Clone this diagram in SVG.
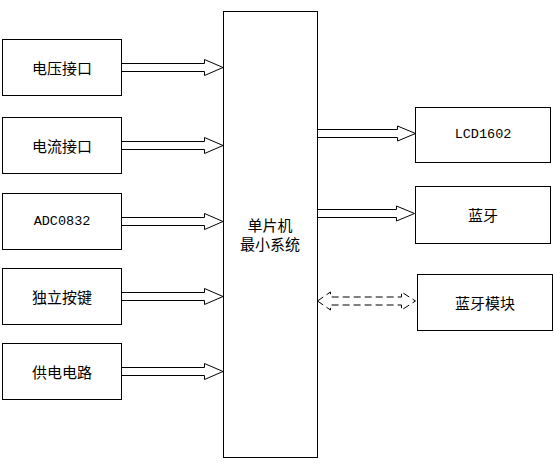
<svg xmlns="http://www.w3.org/2000/svg" width="554" height="464" viewBox="0 0 554 464">
<style>
.box{fill:#fff;stroke:#000;stroke-width:1}
.arr{fill:#fff;stroke:#000;stroke-width:1}
.dash{fill:none;stroke:#000;stroke-width:1;stroke-dasharray:7,4}
.t{font-family:"Noto Sans CJK SC","Liberation Sans",sans-serif;font-size:15px;fill:#000;text-anchor:middle;dominant-baseline:central}
.m{font-family:"Liberation Mono","Noto Sans CJK SC",monospace;font-size:13.5px;fill:#000;text-anchor:middle;dominant-baseline:central}
</style>
<rect width="554" height="464" fill="#fff"/>
<g id="connectors">
<polygon class="arr" points="121.5,63.5 204.5,63.5 204.5,59.5 223,67.5 204.5,75.5 204.5,71.5 121.5,71.5"/>
<polygon class="arr" points="121.5,141.5 204.5,141.5 204.5,137.5 223,145.5 204.5,153.5 204.5,149.5 121.5,149.5"/>
<polygon class="arr" points="121.5,217.5 204.5,217.5 204.5,213.5 223,221.5 204.5,229.5 204.5,225.5 121.5,225.5"/>
<polygon class="arr" points="121.5,292.5 204.5,292.5 204.5,288.5 223,296.5 204.5,304.5 204.5,300.5 121.5,300.5"/>
<polygon class="arr" points="121.5,367.5 204.5,367.5 204.5,363.5 223,371.5 204.5,379.5 204.5,375.5 121.5,375.5"/>
<polygon class="arr" points="317.5,129.5 397.5,129.5 397.5,126 415.5,133.5 397.5,141 397.5,137.5 317.5,137.5"/>
<polygon class="arr" points="317.5,209.5 396.5,209.5 396.5,206 414.5,213.5 396.5,221 396.5,217.5 317.5,217.5"/>
<polygon class="dash" points="317.5,301 330.5,292 330.5,297 401.5,297 401.5,292 415.5,301 401.5,310 401.5,305 330.5,305 330.5,310"/>
</g>
<g id="mcu">
<rect class="box" x="223.5" y="11.5" width="94" height="446"/>
<text class="t" x="270" y="224">单片机</text>
<text class="t" x="270" y="243">最小系统</text>
</g>
<g id="voltage">
<rect class="box" x="2.5" y="39.5" width="119" height="56"/>
<text class="t" x="62" y="67">电压接口</text>
</g>
<g id="current">
<rect class="box" x="2.5" y="117.5" width="119" height="56"/>
<text class="t" x="62" y="145">电流接口</text>
</g>
<g id="adc">
<rect class="box" x="2.5" y="193.5" width="119" height="56"/>
<text class="m" x="62" y="221">ADC0832</text>
</g>
<g id="keys">
<rect class="box" x="2.5" y="268.5" width="119" height="56"/>
<text class="t" x="62" y="296">独立按键</text>
</g>
<g id="power">
<rect class="box" x="2.5" y="343.5" width="119" height="56"/>
<text class="t" x="62" y="371">供电电路</text>
</g>
<g id="lcd">
<rect class="box" x="415.5" y="107.5" width="135" height="55"/>
<text class="m" x="483" y="134">LCD1602</text>
</g>
<g id="bt">
<rect class="box" x="415.5" y="186.5" width="135" height="57"/>
<text class="t" x="483" y="214">蓝牙</text>
</g>
<g id="btmodule">
<rect class="box" x="417.5" y="274.5" width="135" height="56"/>
<text class="t" x="485" y="302">蓝牙模块</text>
</g>
</svg>
